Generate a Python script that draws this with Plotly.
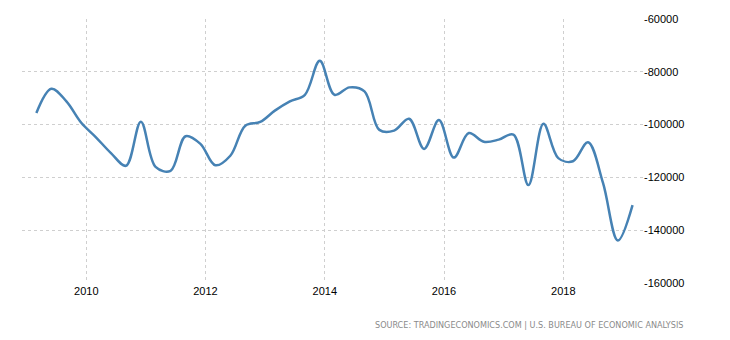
import plotly.graph_objects as go

dates = [f"{y}-{m:02d}-01" for y in range(2009, 2020) for m in (3, 6, 9, 12)][:41]

values = [
    -95600, -86400, -91200, -99300, -104800, -110800, -115600, -98900,
    -116000, -117500, -104400, -107300, -115400, -111800, -100400, -99000,
    -94700, -91200, -88700, -75800, -88700, -85900, -87400, -102000,
    -102300, -97800, -109200, -98300, -112500, -103200, -106500, -105700,
    -103800, -122900, -99700, -112700, -113900, -106700, -122100, -143900,
    -130500,
]

y_ticks = [-60000, -80000, -100000, -120000, -140000, -160000]
x_ticks = ["2010-01-01", "2012-01-01", "2014-01-01", "2016-01-01", "2018-01-01"]
x_labels = ["2010", "2012", "2014", "2016", "2018"]
source_text = "SOURCE: TRADINGECONOMICS.COM | U.S. BUREAU OF ECONOMIC ANALYSIS"

fig = go.Figure()
fig.add_trace(go.Scatter(
    x=dates, y=values, mode="lines",
    line=dict(color="#4682B4", width=2.5, shape="spline", smoothing=1.0),
    hoverinfo="x+y", showlegend=False,
))

fig.update_layout(
    width=730, height=340,
    margin=dict(l=22, r=87, t=19, b=57),
    paper_bgcolor="white", plot_bgcolor="white",
    font=dict(family="Liberation Sans, Arial, sans-serif", size=11, color="#000"),
    xaxis=dict(
        range=["2008-12-03", "2019-05-04"],
        tickvals=x_ticks, ticktext=x_labels,
        showgrid=True, gridcolor="#cfcfcf", griddash="dot", gridwidth=1,
        zeroline=False, showline=False, ticks="", automargin=False,
        tickfont=dict(size=11),
    ),
    yaxis=dict(
        side="right", range=[-160000, -60000],
        tickvals=y_ticks, ticktext=[str(v) for v in y_ticks],
        showgrid=True, gridcolor="#cfcfcf", griddash="dot", gridwidth=1,
        zeroline=False, showline=False, ticks="", automargin=False,
        tickfont=dict(size=11),
    ),
    annotations=[dict(
        text=source_text, xref="paper", yref="paper",
        x=1.0, y=0, xanchor="right", yanchor="middle",
        yshift=-42, xshift=42, showarrow=False,
        font=dict(size=9, color="#8a8a8a", family="DejaVu Sans Condensed, Liberation Sans, sans-serif"),
    )],
)

fig.write_html(
    "out.html",
    config={"displayModeBar": False},
    post_script="document.body.style.margin='0';document.body.style.padding='0';",
)
